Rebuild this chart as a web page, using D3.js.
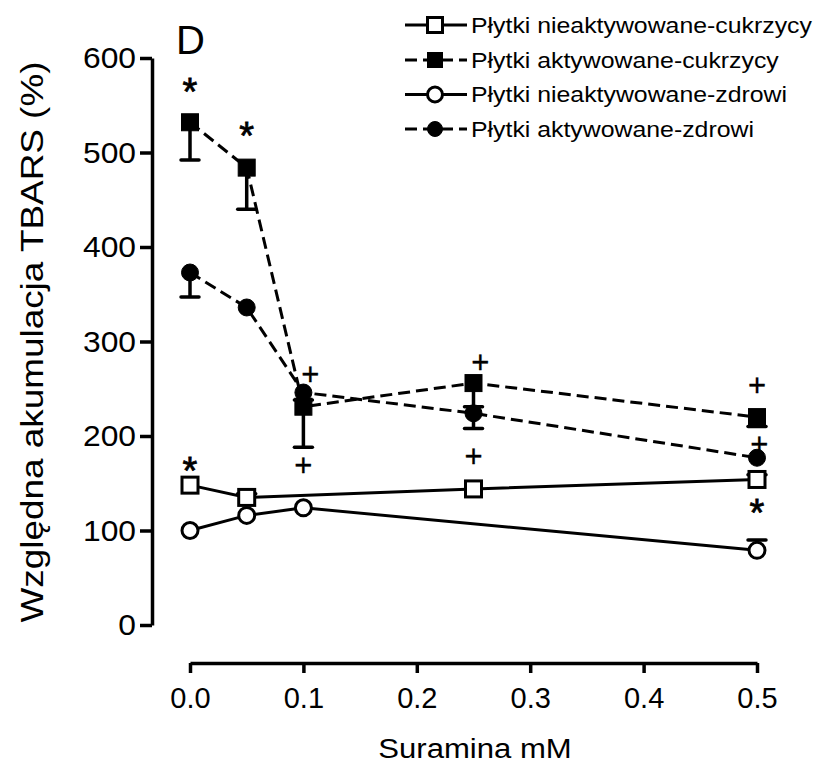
<!DOCTYPE html>
<html>
<head>
<meta charset="utf-8">
<script src="https://cdn.jsdelivr.net/npm/d3@7"></script>
<style>
  html, body { margin: 0; padding: 0; background: #fff; }
  svg { display: block; }
  text { font-family: "Liberation Sans", Arial, Helvetica, sans-serif; fill: #000; }
</style>
</head>
<body>
<svg id="chart" width="817" height="764"></svg>
<script>
// Suramin concentrations (mM)
const doses = [0, 0.05, 0.1, 0.25, 0.5];

// Relative TBARS accumulation (%) per platelet group; null = not measured
const nieaktCukrzycy = [148, 135, null, 144, 154];
const aktCukrzycy    = [532, 484, 231, 256, 220];
const nieaktZdrowi   = [100, 116, 124, null, 79];
const aktZdrowi      = [373, 336, 246, 224, 177];

// One-sided SEM bars (negative = drawn downwards)
const nieaktCukrzycyErr = [0, 4, 0, 0, 5];
const aktCukrzycyErr    = [-40, -44, -43, -25, -10];
const nieaktZdrowiErr   = [0, 0, 0, 0, 11];
const aktZdrowiErr      = [-26, 0, -8, -16, 0];

const seriesNames = [
  "Płytki nieaktywowane-cukrzycy",
  "Płytki aktywowane-cukrzycy",
  "Płytki nieaktywowane-zdrowi",
  "Płytki aktywowane-zdrowi"
];

// Significance marks (dose, value, symbol)
const sigDose   = [0, 0.05, 0.106, 0.1, 0, 0.256, 0.25, 0.5, 0.502, 0.5];
const sigValue  = [573, 526, 265, 169, 172, 278, 178, 253, 191, 127];
const sigSymbol = ["*", "*", "+", "+", "*", "+", "+", "+", "+", "*"];

const yTicks = [0, 100, 200, 300, 400, 500, 600];
const xTicks = [0, 0.1, 0.2, 0.3, 0.4, 0.5];

const svg = d3.select("#chart");
const x = d3.scaleLinear().domain([0, 0.5]).range([190, 757]);
const y = d3.scaleLinear().domain([0, 600]).range([625, 58]);

const series = [
  { name: seriesNames[0], values: nieaktCukrzycy, err: nieaktCukrzycyErr, shape: "square", filled: false, dashed: false },
  { name: seriesNames[1], values: aktCukrzycy,    err: aktCukrzycyErr,    shape: "square", filled: true,  dashed: true  },
  { name: seriesNames[2], values: nieaktZdrowi,   err: nieaktZdrowiErr,   shape: "circle", filled: false, dashed: false },
  { name: seriesNames[3], values: aktZdrowi,      err: aktZdrowiErr,      shape: "circle", filled: true,  dashed: true  }
];

// text helper: horizontally widened glyphs
function placeText(g, str, tx, ty, size, sx, anchor, rot) {
  return g.append("text")
    .attr("transform", `translate(${tx},${ty})` + (rot ? ` rotate(${rot})` : "") + ` scale(${sx},1)`)
    .attr("text-anchor", anchor || "start")
    .attr("font-size", size)
    .text(str);
}

// Axes
const yAxis = svg.append("g")
  .attr("transform", "translate(152,0)")
  .call(d3.axisLeft(y).tickValues(yTicks).tickSize(12).tickSizeOuter(0).tickPadding(4).tickFormat(d3.format("d")));
const xAxis = svg.append("g")
  .attr("transform", "translate(0,663)")
  .call(d3.axisBottom(x).tickValues(xTicks).tickSize(10).tickSizeOuter(0).tickPadding(14).tickFormat(d3.format(".1f")));
[yAxis, xAxis].forEach(a => {
  a.select(".domain").attr("stroke", "#000").attr("stroke-width", 3.5);
  a.selectAll(".tick line").attr("stroke", "#000").attr("stroke-width", 3.5);
  a.selectAll(".tick text").attr("font-size", 29).attr("fill", "#000")
    .style("font-family", '"Liberation Sans", Arial, sans-serif');
});
yAxis.selectAll(".tick text").attr("font-size", 30).attr("transform", "scale(1.06,1)").attr("x", -16 / 1.06);

// Axis titles and panel letter
placeText(svg, "Suramina mM", 475, 758, 28, 1.11, "middle");
placeText(svg, "Względna akumulacja TBARS (%)", 43, 342, 31, 1.19, "middle", -90);
placeText(svg, "D", 176, 54, 40, 1, "start");

// Data layers
const plot = svg.append("g");

function drawMarker(g, shape, filled, cx, cy, size) {
  if (shape === "square") {
    g.append("rect")
      .attr("x", cx - size / 2).attr("y", cy - size / 2)
      .attr("width", size).attr("height", size)
      .attr("fill", filled ? "#000" : "#fff")
      .attr("stroke", "#000").attr("stroke-width", filled ? 1 : 3);
  } else {
    g.append("circle")
      .attr("cx", cx).attr("cy", cy).attr("r", size / 2)
      .attr("fill", filled ? "#000" : "#fff")
      .attr("stroke", "#000").attr("stroke-width", filled ? 1 : 3);
  }
}

series.forEach(s => {
  const pts = doses.map((d, i) => ({ d, v: s.values[i], e: s.err[i] })).filter(p => p.v !== null);
  const line = d3.line().x(p => x(p.d)).y(p => y(p.v));
  plot.append("path")
    .attr("d", line(pts))
    .attr("fill", "none")
    .attr("stroke", "#000")
    .attr("stroke-width", 3)
    .attr("stroke-dasharray", s.dashed ? "12,6" : null);
  // error bars
  pts.filter(p => p.e).forEach(p => {
    const x0 = x(p.d), y0 = y(p.v), y1 = y(p.v + p.e);
    plot.append("line").attr("x1", x0).attr("x2", x0).attr("y1", y0).attr("y2", y1)
      .attr("stroke", "#000").attr("stroke-width", 3.5);
    plot.append("line").attr("x1", x0 - 9).attr("x2", x0 + 9).attr("y1", y1).attr("y2", y1)
      .attr("stroke", "#000").attr("stroke-width", 3.5).attr("stroke-linecap", "round");
  });
  s.pts = pts;
});
series.forEach(s => {
  s.pts.forEach(p => drawMarker(plot, s.shape, s.filled, x(p.d), y(p.v), s.filled ? 17 : 16));
});

// Significance marks: glyph centred on its point
sigSymbol.forEach((sym, i) => {
  const size = sym === "*" ? 38 : 31;
  const lift = sym === "*" ? 0.56 : 0.33;
  svg.append("text")
    .attr("x", x(sigDose[i]))
    .attr("y", y(sigValue[i]) + lift * size)
    .attr("text-anchor", "middle")
    .attr("font-size", size)
    .attr("stroke", "#000").attr("stroke-width", sym === "*" ? 0.8 : 0.3)
    .text(sym);
});

// Legend
const legendRows = [25, 60, 94.5, 129];
const legend = svg.append("g");
series.forEach((s, i) => {
  const ly = legendRows[i];
  legend.append("line")
    .attr("x1", 405).attr("x2", 467).attr("y1", ly).attr("y2", ly)
    .attr("stroke", "#000").attr("stroke-width", 3)
    .attr("stroke-dasharray", s.dashed ? "12,6" : null);
  drawMarker(legend, s.shape, s.filled, 435, ly, 15);
  placeText(legend, s.name, 471, ly + 7.8, 21.8, 1.14, "start");
});
</script>
</body>
</html>
